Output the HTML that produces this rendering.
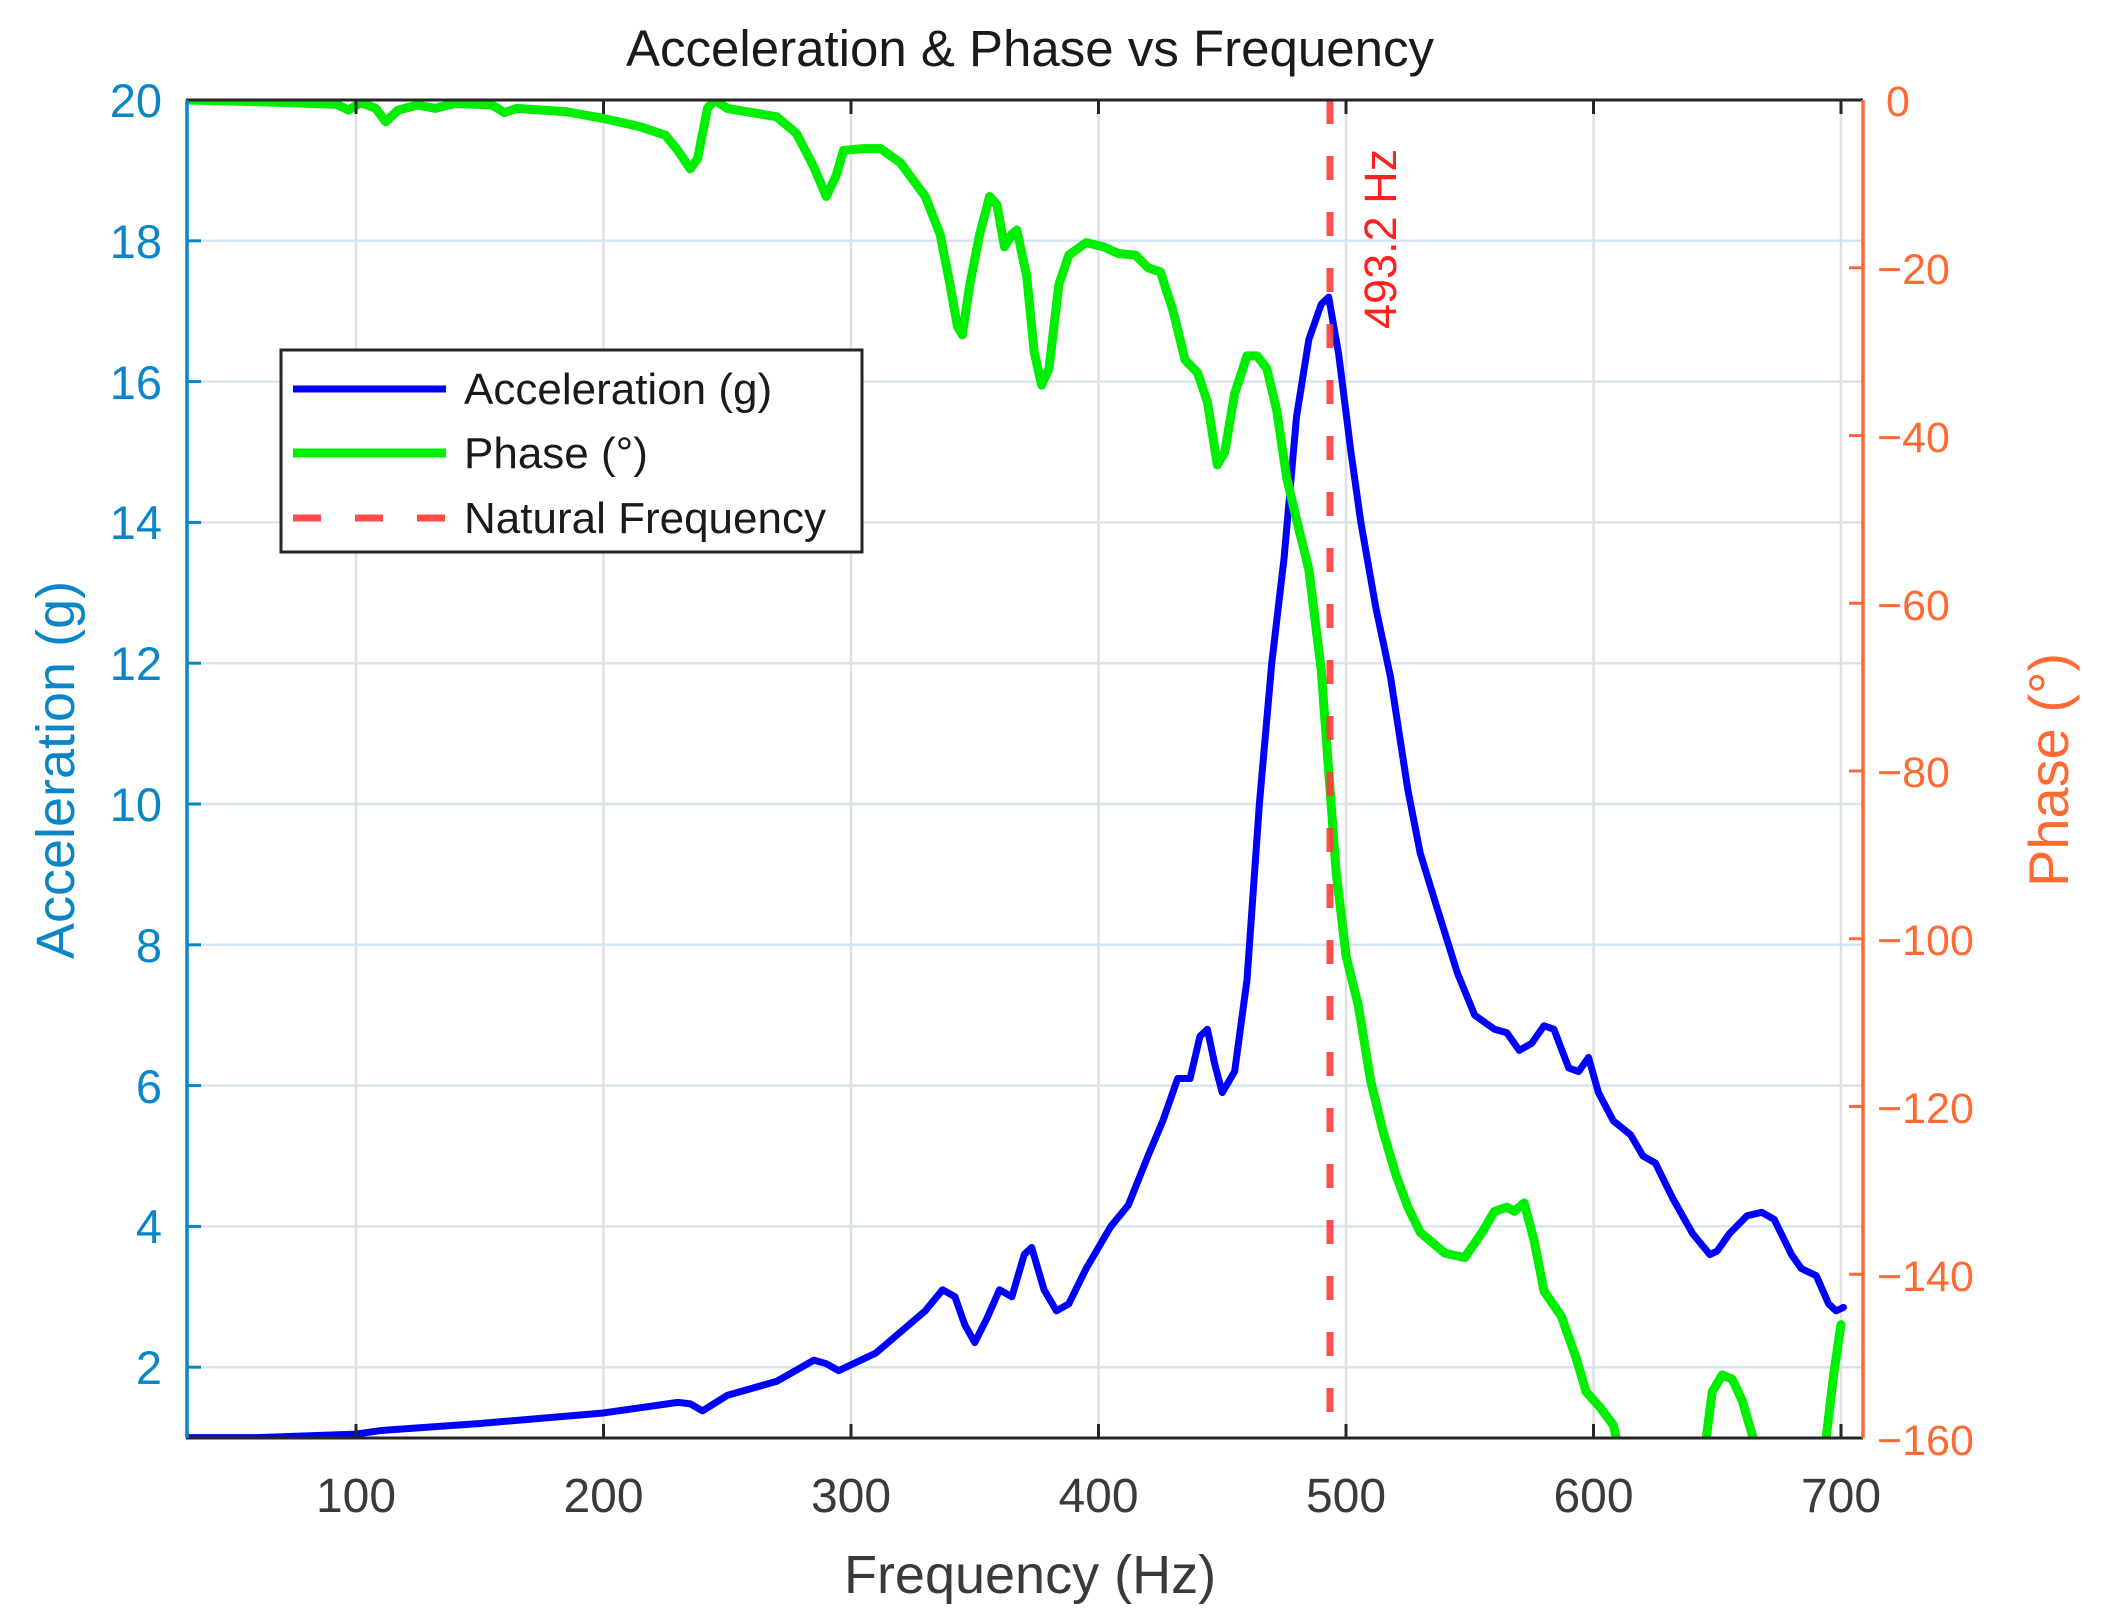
<!DOCTYPE html>
<html><head><meta charset="utf-8"><style>
html,body{margin:0;padding:0;background:#fff}
svg{display:block}
text{font-family:"Liberation Sans",Arial,sans-serif}
</style></head><body>
<svg width="2106" height="1622" viewBox="0 0 2106 1622" xmlns="http://www.w3.org/2000/svg">
<defs><clipPath id="c"><rect x="186" y="100" width="1677" height="1338"/></clipPath></defs>
<rect width="2106" height="1622" fill="#fff"/>
<g stroke="#d4e6f1" stroke-width="2.5">
<line x1="186" x2="1863" y1="240.8" y2="240.8"/><line x1="186" x2="1863" y1="381.6" y2="381.6"/>
<line x1="186" x2="1863" y1="522.4" y2="522.4"/><line x1="186" x2="1863" y1="663.2" y2="663.2"/>
<line x1="186" x2="1863" y1="804" y2="804"/><line x1="186" x2="1863" y1="944.8" y2="944.8"/>
<line x1="186" x2="1863" y1="1085.6" y2="1085.6"/><line x1="186" x2="1863" y1="1226.4" y2="1226.4"/>
<line x1="186" x2="1863" y1="1367.2" y2="1367.2"/>
</g>
<g stroke="#e0e0e0" stroke-width="2.5">
<line x1="356" x2="356" y1="100" y2="1438"/><line x1="603.5" x2="603.5" y1="100" y2="1438"/>
<line x1="851" x2="851" y1="100" y2="1438"/><line x1="1098.5" x2="1098.5" y1="100" y2="1438"/>
<line x1="1346" x2="1346" y1="100" y2="1438"/><line x1="1593.5" x2="1593.5" y1="100" y2="1438"/>
<line x1="1841" x2="1841" y1="100" y2="1438"/>
</g>
<g clip-path="url(#c)" fill="none" stroke-linejoin="round" stroke-linecap="round">
<path transform="translate(108.5,1508) scale(2.475,-70.4)" vector-effect="non-scaling-stroke" stroke="#0000ff" stroke-width="7"
d="M31,1.0 L60,1.0 L100,1.05 L110,1.1 L150,1.2 L200,1.35 L230,1.5 L235,1.48 L240,1.38 L250,1.6 L270,1.8 L285,2.1 L290,2.05 L295,1.95 L310,2.2 L320,2.5 L330,2.8 L337,3.1 L342,3.0 L346,2.6 L350,2.35 L355,2.7 L360,3.1 L365,3.0 L370,3.6 L373,3.7 L378,3.1 L383,2.8 L388,2.9 L395,3.4 L405,4.0 L412,4.3 L420,5.0 L426,5.5 L432,6.1 L437,6.1 L441,6.7 L444,6.8 L447,6.3 L450,5.9 L455,6.2 L460,7.5 L465,10 L470,12 L475,13.5 L480,15.5 L485,16.6 L490,17.1 L493,17.2 L497,16.4 L502,15 L506,14 L512,12.8 L518,11.8 L525,10.2 L530,9.3 L537,8.5 L545,7.6 L552,7.0 L560,6.8 L565,6.75 L570,6.5 L575,6.6 L580,6.85 L584,6.8 L590,6.25 L594,6.2 L598,6.4 L602,5.9 L608,5.5 L615,5.3 L620,5.0 L625,4.9 L632,4.4 L640,3.9 L647,3.6 L650,3.65 L655,3.9 L662,4.15 L668,4.2 L673,4.1 L680,3.6 L684,3.4 L690,3.3 L695,2.9 L698,2.8 L701,2.85"/>
<path transform="translate(108.5,100) scale(2.475,-8.3875)" vector-effect="non-scaling-stroke" stroke="#00ee00" stroke-width="9"
d="M31,0 L60,-0.2 L92,-0.5 L97,-1.2 L102,-0.3 L108,-1 L112,-2.6 L117,-1.2 L125,-0.6 L132,-1 L140,-0.4 L155,-0.6 L160,-1.5 L165,-1 L185,-1.4 L200,-2.2 L215,-3.2 L225,-4.2 L230,-6 L235,-8.2 L238,-7 L242,-1 L245,0 L250,-1 L270,-2 L278,-4 L285,-8 L290,-11.5 L294,-9 L297,-6 L305,-5.8 L312,-5.8 L320,-7.5 L330,-11.5 L336,-16 L340,-22 L343,-27 L345,-28 L348,-22 L352,-16 L356,-11.5 L359,-12.5 L362,-17.5 L365,-16 L367,-15.5 L371,-21 L374,-30 L377,-34 L380,-32 L384,-22 L388,-18.5 L395,-17 L402,-17.5 L408,-18.3 L415,-18.5 L420,-20 L425,-20.5 L430,-25 L435,-31 L440,-32.5 L444,-36 L448,-43.5 L451,-42 L455,-35 L460,-30.5 L464,-30.5 L468,-32 L472,-37 L476,-45 L480,-50 L485,-56 L490,-68 L493,-80 L496,-92 L500,-102 L505,-108 L510,-117 L515,-123 L520,-128 L525,-132 L530,-135 L540,-137.5 L548,-138 L555,-135 L560,-132.5 L565,-132 L568,-132.5 L572,-131.5 L576,-136 L580,-142 L587,-145 L593,-150 L597,-154 L603,-156 L608,-158 L612,-163 L618,-172 M640,-172 L644,-163 L648,-154 L652,-152 L656,-152.5 L660,-155 L664,-159 L668,-163 L672,-172 M688,-172 L693,-162 L697,-152 L700,-146"/>
</g>
<line x1="1330" x2="1330" y1="100" y2="1438" stroke="#ff3b3b" stroke-width="7" stroke-dasharray="24,32" opacity="0.9"/>
<text transform="translate(1396,329) rotate(-90)" font-size="45" fill="#ff2020">493.2 Hz</text>
<line x1="186" x2="1863" y1="100" y2="100" stroke="#262626" stroke-width="3"/>
<line x1="186" x2="1863" y1="1438" y2="1438" stroke="#262626" stroke-width="3"/>
<line x1="187" x2="187" y1="100" y2="1438" stroke="#0a86c8" stroke-width="3.5"/>
<line x1="1863" x2="1863" y1="100" y2="1438" stroke="#ff6a33" stroke-width="3.5"/>
<g stroke="#262626" stroke-width="3">
<line x1="356" x2="356" y1="1438" y2="1424"/><line x1="603.5" x2="603.5" y1="1438" y2="1424"/><line x1="851" x2="851" y1="1438" y2="1424"/><line x1="1098.5" x2="1098.5" y1="1438" y2="1424"/><line x1="1346" x2="1346" y1="1438" y2="1424"/><line x1="1593.5" x2="1593.5" y1="1438" y2="1424"/><line x1="1841" x2="1841" y1="1438" y2="1424"/>
<line x1="356" x2="356" y1="100" y2="114"/><line x1="603.5" x2="603.5" y1="100" y2="114"/><line x1="851" x2="851" y1="100" y2="114"/><line x1="1098.5" x2="1098.5" y1="100" y2="114"/><line x1="1346" x2="1346" y1="100" y2="114"/><line x1="1593.5" x2="1593.5" y1="100" y2="114"/><line x1="1841" x2="1841" y1="100" y2="114"/>
</g>
<g font-size="48" fill="#3a3a3a" text-anchor="middle">
<text x="356" y="1512">100</text><text x="603.5" y="1512">200</text><text x="851" y="1512">300</text><text x="1098.5" y="1512">400</text><text x="1346" y="1512">500</text><text x="1593.5" y="1512">600</text><text x="1841" y="1512">700</text>
</g>
<text x="1030" y="1593" font-size="54" fill="#3a3a3a" text-anchor="middle">Frequency (Hz)</text>
<g stroke="#0a86c8" stroke-width="3">
<line x1="187" x2="201" y1="240.8" y2="240.8"/><line x1="187" x2="201" y1="381.6" y2="381.6"/><line x1="187" x2="201" y1="522.4" y2="522.4"/><line x1="187" x2="201" y1="663.2" y2="663.2"/><line x1="187" x2="201" y1="804" y2="804"/><line x1="187" x2="201" y1="944.8" y2="944.8"/><line x1="187" x2="201" y1="1085.6" y2="1085.6"/><line x1="187" x2="201" y1="1226.4" y2="1226.4"/><line x1="187" x2="201" y1="1367.2" y2="1367.2"/>
</g>
<g font-size="47" fill="#0a86c8" text-anchor="end">
<text x="162" y="117">20</text><text x="162" y="258">18</text><text x="162" y="399">16</text><text x="162" y="539">14</text><text x="162" y="680">12</text><text x="162" y="821">10</text><text x="162" y="962">8</text><text x="162" y="1103">6</text><text x="162" y="1243">4</text><text x="162" y="1384">2</text>
</g>
<text transform="translate(74,770) rotate(-90)" font-size="54" fill="#0a86c8" text-anchor="middle">Acceleration (g)</text>
<g stroke="#ff6a33" stroke-width="3">
<line x1="1849" x2="1863" y1="267.75" y2="267.75"/><line x1="1849" x2="1863" y1="435.5" y2="435.5"/><line x1="1849" x2="1863" y1="603.25" y2="603.25"/><line x1="1849" x2="1863" y1="771" y2="771"/><line x1="1849" x2="1863" y1="938.75" y2="938.75"/><line x1="1849" x2="1863" y1="1106.5" y2="1106.5"/><line x1="1849" x2="1863" y1="1274.25" y2="1274.25"/>
</g>
<g font-size="43" fill="#ff6a33" style="font-family:'DejaVu Sans',sans-serif">
<text x="1886" y="116">0</text>
<text x="1877" y="284">−20</text><text x="1877" y="452">−40</text><text x="1877" y="620">−60</text><text x="1877" y="787">−80</text><text x="1877" y="955">−100</text><text x="1877" y="1123">−120</text><text x="1877" y="1291">−140</text><text x="1877" y="1455">−160</text>
</g>
<text transform="translate(2068,770) rotate(-90)" font-size="56" fill="#ff6a33" text-anchor="middle">Phase (°)</text>
<text x="1030" y="66" font-size="51" fill="#1a1a1a" text-anchor="middle">Acceleration &amp; Phase vs Frequency</text>
<rect x="281" y="350" width="581" height="202" fill="#fff" stroke="#262626" stroke-width="3"/>
<line x1="293" x2="446" y1="389" y2="389" stroke="#0000ff" stroke-width="7"/>
<line x1="293" x2="446" y1="453" y2="453" stroke="#00ee00" stroke-width="9"/>
<line x1="293" x2="446" y1="518" y2="518" stroke="#ff4d4d" stroke-width="7" stroke-dasharray="28,34"/>
<g font-size="44" fill="#1a1a1a">
<text x="464" y="404">Acceleration (g)</text>
<text x="464" y="468">Phase (°)</text>
<text x="464" y="533">Natural Frequency</text>
</g>
</svg>
</body></html>
